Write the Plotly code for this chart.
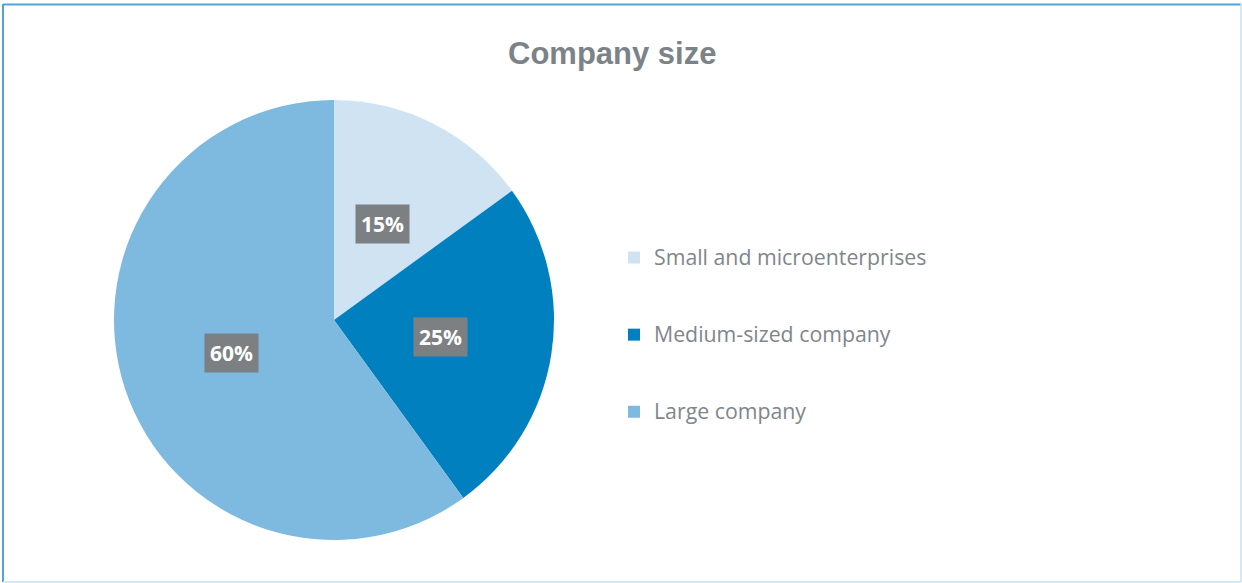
import math
import plotly.graph_objects as go

categories = ["Small and microenterprises", "Medium-sized company", "Large company"]
values = [15, 25, 60]
colors = ["#cfe3f3", "#0080be", "#7eb9df"]
label_texts = ["15%", "25%", "60%"]

W, H = 1242, 583
CX, CY, R = 334, 320, 220  # pie centre and radius in pixels

legend_labels = [" <br><span style='font-size:21.3px'>" + c + "</span><br> " for c in categories]

fig = go.Figure()
fig.add_trace(go.Pie(
    labels=legend_labels,
    values=values,
    sort=False,
    direction="clockwise",
    rotation=0,
    marker=dict(colors=colors, line=dict(width=0)),
    textinfo="none",
    hoverinfo="percent",
    domain=dict(x=[(CX - R) / W, (CX + R) / W], y=[1 - (CY + R) / H, 1 - (CY - R) / H]),
    showlegend=True,
))

# value labels on grey boxes, placed at the middle angle of each slice
total = sum(values)
cum = 0
annotations = []
for v, t in zip(values, label_texts):
    mid = (cum + v / 2) / total * 2 * math.pi
    cum += v
    px = CX + 0.49 * R * math.sin(mid)
    py = CY - 0.49 * R * math.cos(mid)
    annotations.append(dict(
        x=px / W, y=1 - py / H, xref="paper", yref="paper",
        text="<b>" + t + "</b>", showarrow=False,
        font=dict(family="Open Sans", size=21, color="white"),
        bgcolor="#7d8083", borderpad=5,
        xanchor="center", yanchor="middle",
    ))

annotations.append(dict(
    x=612 / W, y=1 - 53 / H, xref="paper", yref="paper",
    text="<b>Company size</b>", showarrow=False,
    font=dict(family="Liberation Sans, Arial", size=31, color="#7b8288"),
    xanchor="center", yanchor="middle",
))

shapes = [
    dict(type="line", xref="paper", yref="paper", x0=3 / W, x1=3 / W, y0=1 - 4 / H, y1=1 - 582 / H,
         line=dict(color="#4ea6d6", width=2)),
    dict(type="line", xref="paper", yref="paper", x0=3 / W, x1=1241 / W, y0=1 - 4.5 / H, y1=1 - 4.5 / H,
         line=dict(color="#4ea6d6", width=2)),
    dict(type="line", xref="paper", yref="paper", x0=1241 / W, x1=1241 / W, y0=1 - 4 / H, y1=1 - 582 / H,
         line=dict(color="#c9e1ec", width=1.5)),
    dict(type="line", xref="paper", yref="paper", x0=3 / W, x1=1241 / W, y0=1 - 582 / H, y1=1 - 582 / H,
         line=dict(color="#c9e1ec", width=1.5)),
]

fig.update_layout(
    width=W, height=H,
    margin=dict(l=0, r=0, t=0, b=0),
    paper_bgcolor="white", plot_bgcolor="white",
    annotations=annotations,
    shapes=shapes,
    legend=dict(
        x=614 / W, y=1 - 335 / H, xanchor="left", yanchor="middle",
        font=dict(family="Open Sans", size=19, color="#7f868c"),
        valign="middle", bgcolor="rgba(0,0,0,0)",
    ),
)

fig.write_html("out.html")
